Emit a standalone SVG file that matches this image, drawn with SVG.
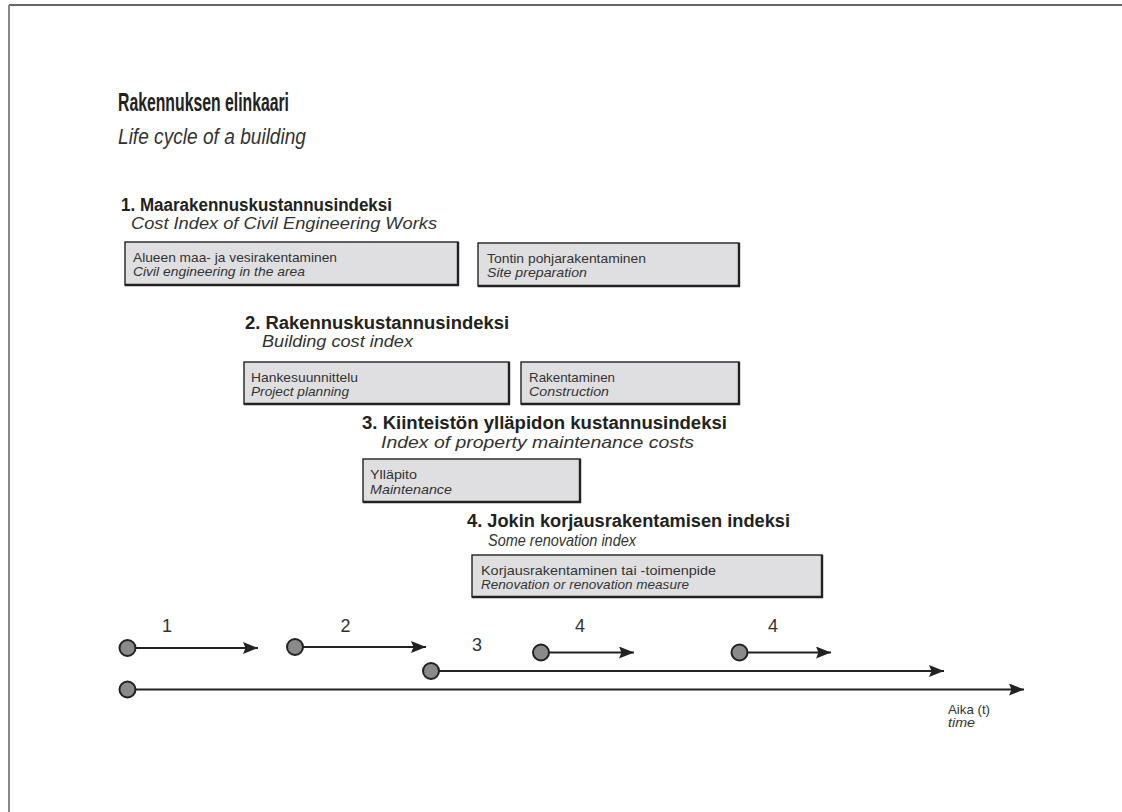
<svg xmlns="http://www.w3.org/2000/svg" width="1122" height="812" viewBox="0 0 1122 812">
<style>
text{font-family:"Liberation Sans",Arial,sans-serif;fill:#222}
.title{font-size:26px;font-weight:bold}
.subtitle{font-size:22px;font-style:italic;fill:#333}
.h{font-size:17.5px;font-weight:bold}
.hs{font-size:17px;font-style:italic;fill:#333}
.bt{font-size:13.5px;fill:#333}
.bi{font-size:13.5px;font-style:italic;fill:#333}
.box{fill:#dfdfe1;stroke:#222;stroke-width:1.4}
.shadow{fill:none;stroke:#222;stroke-width:2.4}
.num{font-size:18px;fill:#333;text-anchor:middle}
.line{stroke:#222;stroke-width:2.2;fill:none}
.dot{fill:#8a8a8a;stroke:#222;stroke-width:2}
</style>
<defs>
<marker id="arr" viewBox="0 0 15 12" refX="15" refY="6" markerWidth="15" markerHeight="12" markerUnits="userSpaceOnUse" orient="auto">
<path d="M0,0 L15,6 L0,12 L2.5,6 z" fill="#222"/>
</marker>
</defs>
<rect width="1122" height="812" fill="#fff"/>
<g id="frame">
<line x1="9" y1="5" x2="1122" y2="5" stroke="#333" stroke-width="1.5"/>
<line x1="9" y1="5" x2="9" y2="812" stroke="#888" stroke-width="2"/>
</g>
<g id="heading">
<text class="title" x="118" y="111" textLength="171" lengthAdjust="spacingAndGlyphs">Rakennuksen elinkaari</text>
<text class="subtitle" x="118" y="144" textLength="188" lengthAdjust="spacingAndGlyphs">Life cycle of a building</text>
</g>
<g id="index1">
<text class="h" x="121" y="211" textLength="271" lengthAdjust="spacingAndGlyphs">1. Maarakennuskustannusindeksi</text>
<text class="hs" x="131" y="229" textLength="306" lengthAdjust="spacingAndGlyphs">Cost Index of Civil Engineering Works</text>
</g>
<g id="box-alueen">
<rect class="box" x="125" y="242" width="333" height="43"/>
<path class="shadow" d="M458,242 V285 H125"/>
<text class="bt" x="133" y="262" textLength="204" lengthAdjust="spacingAndGlyphs">Alueen maa- ja vesirakentaminen</text>
<text class="bi" x="133" y="276" textLength="172" lengthAdjust="spacingAndGlyphs">Civil engineering in the area</text>
</g>
<g id="box-tontin">
<rect class="box" x="478" y="243" width="261" height="43"/>
<path class="shadow" d="M739,243 V286 H478"/>
<text class="bt" x="487" y="263" textLength="159" lengthAdjust="spacingAndGlyphs">Tontin pohjarakentaminen</text>
<text class="bi" x="487" y="277" textLength="100" lengthAdjust="spacingAndGlyphs">Site preparation</text>
</g>
<g id="index2">
<text class="h" x="245" y="329" textLength="264" lengthAdjust="spacingAndGlyphs">2. Rakennuskustannusindeksi</text>
<text class="hs" x="262" y="347" textLength="151" lengthAdjust="spacingAndGlyphs">Building cost index</text>
</g>
<g id="box-hanke">
<rect class="box" x="244" y="362" width="265" height="42"/>
<path class="shadow" d="M509,362 V404 H244"/>
<text class="bt" x="251" y="382" textLength="107" lengthAdjust="spacingAndGlyphs">Hankesuunnittelu</text>
<text class="bi" x="251" y="396" textLength="98" lengthAdjust="spacingAndGlyphs">Project planning</text>
</g>
<g id="box-rakentaminen">
<rect class="box" x="521" y="362" width="218" height="42"/>
<path class="shadow" d="M739,362 V404 H521"/>
<text class="bt" x="529" y="382" textLength="86" lengthAdjust="spacingAndGlyphs">Rakentaminen</text>
<text class="bi" x="529" y="396" textLength="80" lengthAdjust="spacingAndGlyphs">Construction</text>
</g>
<g id="index3">
<text class="h" x="362" y="429" textLength="365" lengthAdjust="spacingAndGlyphs">3. Kiinteistön ylläpidon kustannusindeksi</text>
<text class="hs" x="381" y="448" textLength="313" lengthAdjust="spacingAndGlyphs">Index of property maintenance costs</text>
</g>
<g id="box-yllapito">
<rect class="box" x="363" y="459" width="217" height="43"/>
<path class="shadow" d="M580,459 V502 H363"/>
<text class="bt" x="370" y="479" textLength="47" lengthAdjust="spacingAndGlyphs">Ylläpito</text>
<text class="bi" x="370" y="494" textLength="82" lengthAdjust="spacingAndGlyphs">Maintenance</text>
</g>
<g id="index4">
<text class="h" x="467" y="527" textLength="323" lengthAdjust="spacingAndGlyphs">4. Jokin korjausrakentamisen indeksi</text>
<text class="hs" x="488" y="546" textLength="148" lengthAdjust="spacingAndGlyphs">Some renovation index</text>
</g>
<g id="box-korjaus">
<rect class="box" x="472" y="555" width="350" height="42"/>
<path class="shadow" d="M822,555 V597 H472"/>
<text class="bt" x="481" y="575" textLength="235" lengthAdjust="spacingAndGlyphs">Korjausrakentaminen tai -toimenpide</text>
<text class="bi" x="481" y="589" textLength="208" lengthAdjust="spacingAndGlyphs">Renovation or renovation measure</text>
</g>
<g id="connectors">
<line class="line" x1="136" y1="648" x2="258" y2="648" marker-end="url(#arr)"/>
<line class="line" x1="303" y1="647" x2="426" y2="647" marker-end="url(#arr)"/>
<line class="line" x1="439" y1="671" x2="944" y2="671" marker-end="url(#arr)"/>
<line class="line" x1="549" y1="652.5" x2="634" y2="652.5" marker-end="url(#arr)"/>
<line class="line" x1="748" y1="652.5" x2="831" y2="652.5" marker-end="url(#arr)"/>
<line class="line" x1="136" y1="689.5" x2="1024" y2="689.5" marker-end="url(#arr)"/>
</g>
<g id="dot-1"><circle class="dot" cx="127.5" cy="648" r="8"/><text class="num" x="167" y="632">1</text></g>
<g id="dot-2"><circle class="dot" cx="295" cy="647" r="8"/><text class="num" x="345.5" y="632">2</text></g>
<g id="dot-3"><circle class="dot" cx="431" cy="671" r="8"/><text class="num" x="477" y="651">3</text></g>
<g id="dot-4a"><circle class="dot" cx="541" cy="652.5" r="8"/><text class="num" x="580" y="632">4</text></g>
<g id="dot-4b"><circle class="dot" cx="739.5" cy="652.5" r="8"/><text class="num" x="773" y="632">4</text></g>
<g id="dot-time"><circle class="dot" cx="127.5" cy="689.5" r="8"/></g>
<g id="time-label">
<text class="bt" x="948" y="714" textLength="42" lengthAdjust="spacingAndGlyphs">Aika (t)</text>
<text class="bi" x="948" y="727" textLength="27" lengthAdjust="spacingAndGlyphs">time</text>
</g>
</svg>
